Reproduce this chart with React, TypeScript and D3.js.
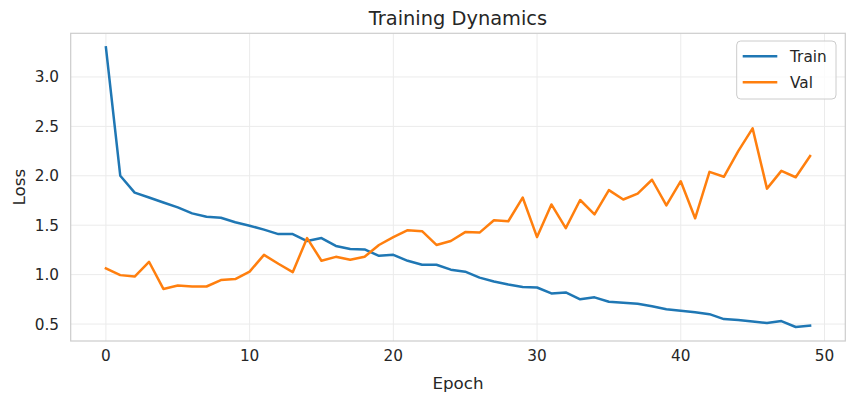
import React from "react";
import * as d3 from "d3";

const epochs: number[] = Array.from({ length: 50 }, (_, i) => i);
const trainLoss: number[] = [
  3.3, 2.0, 1.83, 1.78, 1.73, 1.68, 1.62, 1.585, 1.575, 1.53,
  1.495, 1.455, 1.41, 1.41, 1.34, 1.37, 1.29, 1.26, 1.255, 1.19,
  1.2, 1.14, 1.1, 1.1, 1.05, 1.03, 0.97, 0.93, 0.9, 0.875,
  0.87, 0.81, 0.82, 0.75, 0.77, 0.725, 0.715, 0.705, 0.68, 0.65,
  0.635, 0.62, 0.6, 0.55, 0.54, 0.525, 0.51, 0.53, 0.47, 0.485,
];
const valLoss: number[] = [
  1.063, 0.995, 0.98, 1.13, 0.855, 0.89, 0.88, 0.88, 0.945, 0.955,
  1.03, 1.2, 1.11, 1.025, 1.37, 1.14, 1.18, 1.15, 1.18, 1.3,
  1.38, 1.45, 1.44, 1.3, 1.34, 1.43, 1.425, 1.55, 1.54, 1.78,
  1.38, 1.71, 1.47, 1.755, 1.61, 1.855, 1.76, 1.82, 1.96, 1.7,
  1.945, 1.57, 2.04, 1.99, 2.25, 2.48, 1.87, 2.05, 1.985, 2.2,
];
const xTicks: number[] = [0, 10, 20, 30, 40, 50];
const yTicks: number[] = [0.5, 1.0, 1.5, 2.0, 2.5, 3.0];
const seriesNames: string[] = ["Train", "Val"];
const seriesColors: string[] = ["#1f77b4", "#ff7f0e"];

const W = 854;
const H = 402;
const left = 70.7;
const right = 845.3;
const top = 33.3;
const bottom = 341;
const FONT = "DejaVu Sans, sans-serif";
const TEXT = "#262626";

export default function App() {
  const allVals = [...trainLoss, ...valLoss];
  const ymin = d3.min(allVals)!;
  const ymax = d3.max(allVals)!;
  const ypad = (ymax - ymin) * 0.05;
  const xpad = 49 * 0.05;
  const x = d3.scaleLinear().domain([0 - xpad, 49 + xpad]).range([left, right]);
  const y = d3.scaleLinear().domain([ymin - ypad, ymax + ypad]).range([bottom, top]);
  const line = d3
    .line<number>()
    .x((_, i) => x(epochs[i]))
    .y((d) => y(d));
  const series = [trainLoss, valLoss];

  return (
    <svg width={W} height={H} style={{ position: "absolute", left: 0, top: 0, background: "#fff" }}>
      <rect x={0} y={0} width={W} height={H} fill="#fff" />
      {/* grid */}
      {xTicks.map((t) => (
        <line key={"gx" + t} x1={x(t)} x2={x(t)} y1={top} y2={bottom} stroke="#ebebeb" strokeWidth={1} />
      ))}
      {yTicks.map((t) => (
        <line key={"gy" + t} x1={left} x2={right} y1={y(t)} y2={y(t)} stroke="#ebebeb" strokeWidth={1} />
      ))}
      {/* spines */}
      <rect x={left} y={top} width={right - left} height={bottom - top} fill="none" stroke="#cccccc" strokeWidth={1.2} />
      {/* lines */}
      {series.map((s, k) => (
        <path key={k} d={line(s)!} fill="none" stroke={seriesColors[k]} strokeWidth={2.5} strokeLinejoin="round" strokeLinecap="square" />
      ))}
      {/* x tick labels */}
      {xTicks.map((t) => (
        <text key={"xt" + t} x={x(t)} y={361} textAnchor="middle" fontFamily={FONT} fontSize={15.3} fill={TEXT}>
          {t}
        </text>
      ))}
      {yTicks.map((t) => (
        <text key={"yt" + t} x={59} y={y(t) + 5.5} textAnchor="end" fontFamily={FONT} fontSize={15.3} fill={TEXT}>
          {d3.format(".1f")(t)}
        </text>
      ))}
      {/* axis labels */}
      <text x={(left + right) / 2} y={389} textAnchor="middle" fontFamily={FONT} fontSize={16.7} fill={TEXT}>
        Epoch
      </text>
      <text
        transform={`translate(25,${(top + bottom) / 2}) rotate(-90)`}
        textAnchor="middle"
        fontFamily={FONT}
        fontSize={16.7}
        fill={TEXT}
      >
        Loss
      </text>
      {/* title */}
      <text x={(left + right) / 2} y={25} textAnchor="middle" fontFamily={FONT} fontSize={19.4} fill={TEXT}>
        Training Dynamics
      </text>
      {/* legend */}
      <rect x={736.7} y={41} width={99.3} height={58} rx={4} fill="#fff" fillOpacity={0.8} stroke="#cccccc" strokeWidth={1} />
      {seriesNames.map((n, k) => (
        <g key={n}>
          <line x1={742.7} x2={777.3} y1={56.3 + k * 26} y2={56.3 + k * 26} stroke={seriesColors[k]} strokeWidth={2.5} />
          <text x={790} y={56.3 + k * 26 + 5.5} fontFamily={FONT} fontSize={15.3} fill={TEXT}>
            {n}
          </text>
        </g>
      ))}
    </svg>
  );
}
